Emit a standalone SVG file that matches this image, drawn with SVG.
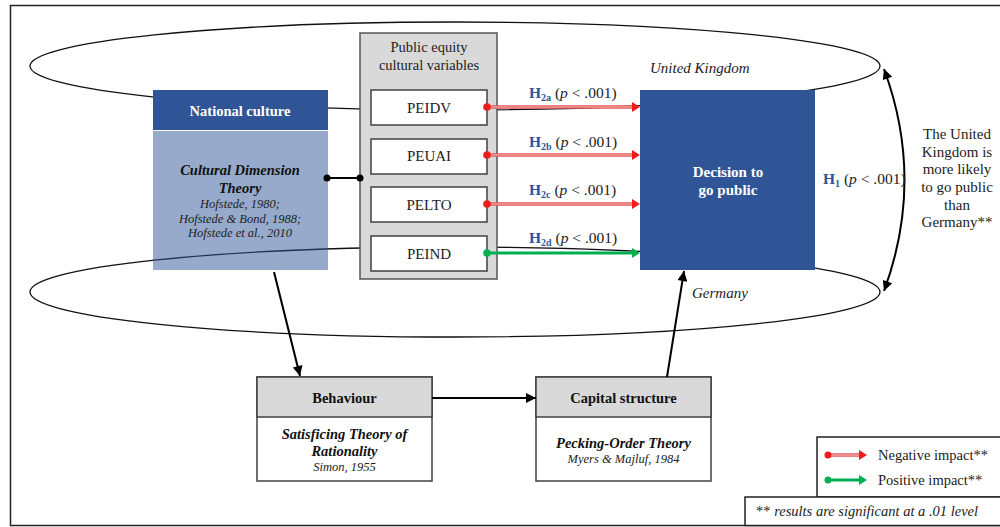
<svg xmlns="http://www.w3.org/2000/svg" width="1000" height="527" viewBox="0 0 1000 527">
<style>
.c{text-anchor:middle}
.box{fill:#fff;stroke:#404040;stroke-width:1.5}
.hdr{fill:#d9d9d9;stroke:#404040;stroke-width:1.5}
.ell{fill:none;stroke:#111;stroke-width:1.3}
.blk{stroke:#000;stroke-width:2;fill:none}
.negO{stroke:#e05858;stroke-width:3.5}
.negI{stroke:#f5b5b5;stroke-width:1.2}
.pos{stroke:#00b050;stroke-width:3}
</style>
<defs>
<marker id="ah" viewBox="0 0 10 10" refX="10" refY="5" markerWidth="11" markerHeight="10" markerUnits="userSpaceOnUse" orient="auto-start-reverse"><path d="M0,0 L10,5 L0,10 z" fill="#000"/></marker>
</defs>
<rect x="0" y="0" width="1000" height="527" fill="#fff"/>
<rect x="10.5" y="5.5" width="1000" height="520" fill="none" stroke="#222" stroke-width="1.5"/>

<g id="regions">
<ellipse class="ell" cx="455" cy="66" rx="425" ry="44"/>
<ellipse class="ell" cx="455" cy="292" rx="425" ry="45"/>
<text font-family="Liberation Serif" font-style="italic" fill="#222" x="650" y="73" font-size="15">United Kingdom</text>
<text font-family="Liberation Serif" font-style="italic" fill="#222" x="692" y="298" font-size="15">Germany</text>
</g>

<g id="national-culture">
<rect x="153" y="90" width="175" height="40" fill="#2f5597"/>
<rect x="153" y="131" width="175" height="139" fill="#2f5597" fill-opacity="0.5"/>
<text font-family="Liberation Serif" font-weight="bold" fill="#fff" class="c" x="240" y="116" font-size="14.5">National culture</text>
<text font-family="Liberation Serif" font-weight="bold" font-style="italic" fill="#111" class="c" x="240" y="175" font-size="14.5">Cultural Dimension</text>
<text font-family="Liberation Serif" font-weight="bold" font-style="italic" fill="#111" class="c" x="240" y="193" font-size="14.5">Theory</text>
<text font-family="Liberation Serif" font-style="italic" fill="#222" class="c" x="240" y="208" font-size="12.5">Hofstede, 1980;</text>
<text font-family="Liberation Serif" font-style="italic" fill="#222" class="c" x="240" y="223" font-size="12.5">Hofstede &amp; Bond, 1988;</text>
<text font-family="Liberation Serif" font-style="italic" fill="#222" class="c" x="240" y="237" font-size="12.5">Hofstede et al., 2010</text>
</g>

<g id="variables">
<rect x="360" y="33" width="137" height="246" fill="#d9d9d9" stroke="#555" stroke-width="1.5"/>
<text font-family="Liberation Serif" fill="#222" class="c" x="429" y="52" font-size="14.5">Public equity</text>
<text font-family="Liberation Serif" fill="#222" class="c" x="429" y="70" font-size="14.5">cultural variables</text>
<g id="peidv"><rect class="box" x="371" y="90" width="116" height="35"/><text font-family="Liberation Serif" fill="#222" class="c" x="429" y="113" font-size="15">PEIDV</text></g>
<g id="peuai"><rect class="box" x="371" y="139" width="116" height="35"/><text font-family="Liberation Serif" fill="#222" class="c" x="429" y="161" font-size="15">PEUAI</text></g>
<g id="pelto"><rect class="box" x="371" y="187" width="116" height="35"/><text font-family="Liberation Serif" fill="#222" class="c" x="429" y="210" font-size="15">PELTO</text></g>
<g id="peind"><rect class="box" x="371" y="236" width="116" height="35"/><text font-family="Liberation Serif" fill="#222" class="c" x="429" y="259" font-size="15">PEIND</text></g>
</g>

<g id="decision">
<rect x="640" y="90" width="175" height="180" fill="#2f5597"/>
<text font-family="Liberation Serif" font-weight="bold" fill="#fff" class="c" x="728" y="177" font-size="15">Decision to</text>
<text font-family="Liberation Serif" font-weight="bold" fill="#fff" class="c" x="728" y="195" font-size="15">go public</text>
</g>

<g id="behaviour">
<rect class="box" x="257" y="377" width="175" height="104"/>
<rect class="hdr" x="257" y="377" width="175" height="40"/>
<text font-family="Liberation Serif" font-weight="bold" fill="#111" class="c" x="344.5" y="403" font-size="14.5">Behaviour</text>
<text font-family="Liberation Serif" font-weight="bold" font-style="italic" fill="#111" class="c" x="344.5" y="439" font-size="14.5">Satisficing Theory of</text>
<text font-family="Liberation Serif" font-weight="bold" font-style="italic" fill="#111" class="c" x="344.5" y="456" font-size="14.5">Rationality</text>
<text font-family="Liberation Serif" font-style="italic" fill="#222" class="c" x="344.5" y="471" font-size="12.5">Simon, 1955</text>
</g>

<g id="capital">
<rect class="box" x="536" y="377" width="175" height="104"/>
<rect class="hdr" x="536" y="377" width="175" height="40"/>
<text font-family="Liberation Serif" font-weight="bold" fill="#111" class="c" x="623.5" y="403" font-size="14.5">Capital structure</text>
<text font-family="Liberation Serif" font-weight="bold" font-style="italic" fill="#111" class="c" x="623.5" y="448" font-size="14.5">Pecking-Order Theory</text>
<text font-family="Liberation Serif" font-style="italic" fill="#222" class="c" x="623.5" y="463" font-size="12.5">Myers &amp; Majluf, 1984</text>
</g>

<g id="h1-note">
<text font-family="Liberation Serif" fill="#222" class="c" font-size="15"><tspan x="957" y="139">The United</tspan><tspan x="957" y="157">Kingdom is</tspan><tspan x="957" y="174">more likely</tspan><tspan x="957" y="192">to go public</tspan><tspan x="957" y="210">than</tspan><tspan x="957" y="227">Germany**</tspan></text>
</g>

<g id="connectors">
<line class="blk" x1="327" y1="178" x2="360" y2="178"/>
<circle cx="327" cy="178" r="3.5" fill="#000"/>
<circle cx="360" cy="178" r="3.5" fill="#000"/>

<line class="negO" x1="487" y1="107" x2="632" y2="107"/><line class="negI" x1="490" y1="107" x2="632" y2="107"/>
<path d="M632,102 L640,107 L632,112 z" fill="#ee1c1c"/><circle cx="487" cy="107" r="3.8" fill="#ee1c1c"/>
<line class="negO" x1="487" y1="155" x2="632" y2="155"/><line class="negI" x1="490" y1="155" x2="632" y2="155"/>
<path d="M632,150 L640,155 L632,160 z" fill="#ee1c1c"/><circle cx="487" cy="155" r="3.8" fill="#ee1c1c"/>
<line class="negO" x1="487" y1="204" x2="632" y2="204"/><line class="negI" x1="490" y1="204" x2="632" y2="204"/>
<path d="M632,199 L640,204 L632,209 z" fill="#ee1c1c"/><circle cx="487" cy="204" r="3.8" fill="#ee1c1c"/>
<line class="pos" x1="487" y1="253" x2="632" y2="253"/>
<path d="M632,248 L640,253 L632,258 z" fill="#00b050"/><circle cx="487" cy="253" r="3.8" fill="#00b050"/>

<text font-family="Liberation Serif" fill="#222" x="529" y="98" font-size="15.5"><tspan fill="#2f5597" font-weight="bold">H</tspan><tspan fill="#2f5597" font-weight="bold" font-size="10" dy="3">2a</tspan><tspan dy="-3"> (</tspan><tspan font-style="italic">p</tspan> &lt; .001)</text>
<text font-family="Liberation Serif" fill="#222" x="529" y="147" font-size="15.5"><tspan fill="#2f5597" font-weight="bold">H</tspan><tspan fill="#2f5597" font-weight="bold" font-size="10" dy="3">2b</tspan><tspan dy="-3"> (</tspan><tspan font-style="italic">p</tspan> &lt; .001)</text>
<text font-family="Liberation Serif" fill="#222" x="529" y="195" font-size="15.5"><tspan fill="#2f5597" font-weight="bold">H</tspan><tspan fill="#2f5597" font-weight="bold" font-size="10" dy="3">2c</tspan><tspan dy="-3"> (</tspan><tspan font-style="italic">p</tspan> &lt; .001)</text>
<text font-family="Liberation Serif" fill="#222" x="529" y="243" font-size="15.5"><tspan fill="#2f5597" font-weight="bold">H</tspan><tspan fill="#2f5597" font-weight="bold" font-size="10" dy="3">2d</tspan><tspan dy="-3"> (</tspan><tspan font-style="italic">p</tspan> &lt; .001)</text>

<path class="blk" d="M884,69 Q925,180 884,291" marker-start="url(#ah)" marker-end="url(#ah)"/>
<text font-family="Liberation Serif" fill="#222" x="823" y="184" font-size="15.5"><tspan fill="#2f5597" font-weight="bold">H</tspan><tspan fill="#2f5597" font-weight="bold" font-size="10" dy="3">1</tspan><tspan dy="-3"> (</tspan><tspan font-style="italic">p</tspan> &lt; .001)</text>

<line class="blk" x1="274" y1="272" x2="300" y2="376" marker-end="url(#ah)"/>
<line class="blk" x1="432" y1="398" x2="536" y2="398" marker-end="url(#ah)"/>
<line class="blk" x1="667" y1="377" x2="684" y2="271" marker-end="url(#ah)"/>
</g>

<g id="legend">
<rect x="817" y="437" width="200" height="60" fill="#fff" stroke="#222" stroke-width="1.5"/>
<line class="negO" x1="828" y1="455" x2="860" y2="455"/><line class="negI" x1="831" y1="455" x2="860" y2="455"/>
<path d="M859,450 L867,455 L859,460 z" fill="#ee1c1c"/><circle cx="828" cy="455" r="3.5" fill="#ee1c1c"/>
<text font-family="Liberation Serif" fill="#222" x="878" y="460" font-size="14.5">Negative impact**</text>
<line class="pos" x1="828" y1="480" x2="860" y2="480"/>
<path d="M859,475 L867,480 L859,485 z" fill="#00b050"/><circle cx="828" cy="480" r="3.5" fill="#00b050"/>
<text font-family="Liberation Serif" fill="#222" x="878" y="485" font-size="14.5">Positive impact**</text>
</g>
<g id="footnote">
<rect x="745" y="497" width="270" height="28.5" fill="#fff" stroke="#222" stroke-width="1.5"/>
<text font-family="Liberation Serif" fill="#222" x="756" y="516" font-size="14.5">** <tspan font-style="italic">results are significant at a .01 level</tspan></text>
</g>
</svg>
